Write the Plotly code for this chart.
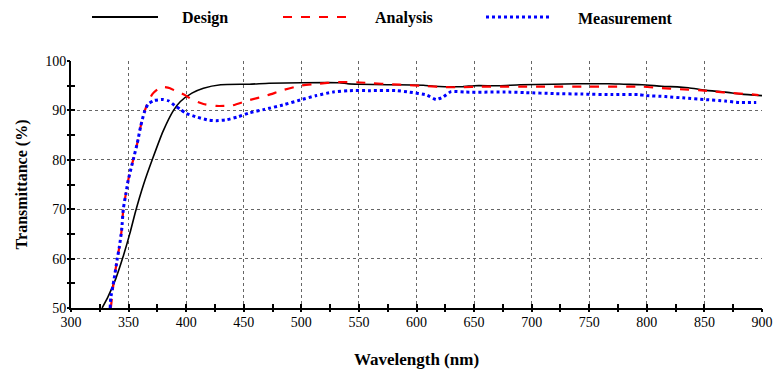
import plotly.graph_objects as go

# Design (black solid)
design_x = [327, 332, 339, 345, 351, 356, 363, 371, 380, 389, 395, 405, 415, 430,
            455, 472, 500, 533, 540, 550, 575, 606, 615, 640, 650, 672, 690, 718, 740, 767,
            780, 796, 813, 836, 850, 868, 882, 900]
design_y = [50, 52.2, 56, 60.2, 65, 69.5, 75, 80.3, 85.8, 90, 91.8, 93.5, 94.5, 95.2,
            95.3, 95.5, 95.6, 95.6, 95.4, 95.3, 95.2, 95.1, 94.9, 94.8, 95.0, 95.0, 95.2, 95.3,
            95.4, 95.4, 95.3, 95.2, 94.9, 94.6, 94.1, 93.7, 93.3, 93.0]

# Analysis (red dashed)
analysis_x = [334.6, 337.3, 340.2, 342, 344, 345.4, 347.7, 349.7, 354, 357.6, 360.5, 363.6,
              367, 371, 376, 381, 386, 390, 394.6, 399, 405, 415, 426, 440, 455, 470, 484,
              499, 515, 530, 548, 562, 577, 594, 609, 625, 640, 655, 700, 750, 796, 813, 827,
              845, 859, 874, 888, 897]
analysis_y = [50, 55.7, 60, 62.4, 65.8, 70, 73.2, 75.9, 80, 83.4, 86.8, 89.6,
              91.8, 93.4, 94.4, 94.7, 94.5, 94.0, 93.6, 93.1, 92.2, 91.3, 90.9, 91.0, 92.1, 93.0,
              94.1, 95.0, 95.4, 95.7, 95.7, 95.5, 95.3, 95.1, 94.9, 94.7, 94.7, 94.8, 94.8, 94.8,
              94.8, 94.5, 94.3, 94.1, 93.8, 93.5, 93.3, 93.1]

# Measurement (blue dotted)
measure_x = [334, 334.5, 337.3, 340.2, 342, 344, 345.4, 347.7, 349.7, 354, 357.6, 360.5, 363.6,
             367, 372, 380, 385, 390, 395, 400, 410, 420, 426, 435, 445, 455, 468, 484, 499,
             513, 527, 542, 560, 582, 594, 609, 617, 623, 630, 643, 680, 695, 720, 744, 770,
             793, 799, 816, 833, 850, 868, 880, 895]
measure_y = [50, 52, 55.7, 60, 62.4, 65.8, 70, 73.2, 75.9, 80, 83.4, 86.8, 89.6,
             91.3, 92.0, 92.2, 91.9, 91.0, 90.2, 89.4, 88.6, 88.0, 87.9, 88.1, 88.7, 89.5, 90.2,
             91.1, 92.1, 93.0, 93.7, 94.0, 94.0, 94.0, 93.7, 93.1, 92.2, 92.7, 93.8, 93.7, 93.7,
             93.6, 93.4, 93.3, 93.2, 93.2, 93.0, 92.8, 92.5, 92.2, 91.9, 91.6, 91.6]

x_ticks = list(range(300, 901, 50))
y_ticks = list(range(50, 101, 10))

series_names = ["Design", "Analysis", "Measurement"]
series_colors = ["black", "#ff0000", "#0000ff"]
series_dash = ["solid", "dash", "dot"]
series_width = [1.6, 2.2, 3]

serif = "Liberation Serif"

fig = go.Figure()
for name, xs, ys, c, d, w in zip(series_names, [design_x, analysis_x, measure_x],
                                  [design_y, analysis_y, measure_y],
                                  series_colors, series_dash, series_width):
    fig.add_trace(go.Scatter(x=xs, y=ys, mode="lines", name=name, showlegend=False,
                             line=dict(color=c, width=w, dash=d, shape="spline", smoothing=0.5)))

# invisible helper trace so the overlay axes (outer half of the crossing ticks) are drawn
fig.add_trace(go.Scatter(x=[300, 900], y=[50, 100], xaxis="x2", yaxis="y2", mode="markers",
                         marker=dict(opacity=0), hoverinfo="skip", showlegend=False))

# Manual legend across the top (pixel layout converted to paper coords)
L, R, T, B = 71, 762, 61, 308
def px(xp):
    return (xp - L) / (R - L)
def py(yp):
    return (B - yp) / (B - T)

legend_line_x = [(92, 158), (283, 347), (486, 552)]
legend_text_x = [180, 373, 576]
for (x0, x1), tx, name, c, d, w in zip(legend_line_x, legend_text_x, series_names,
                                       series_colors, series_dash, series_width):
    fig.add_shape(type="line", xref="paper", yref="paper",
                  x0=px(x0), x1=px(x1), y0=py(17), y1=py(17),
                  line=dict(color=c, width=w if d != "solid" else 2, dash=d))
    fig.add_annotation(xref="paper", yref="paper", x=px(tx), y=py(18), xanchor="left",
                       yanchor="middle", text="<b>%s</b>" % name, showarrow=False,
                       font=dict(family=serif, size=16, color="black"))

axis_common = dict(
    showline=True, linecolor="black", linewidth=2, mirror=False,
    showgrid=True, gridcolor="#666666", griddash="dot", gridwidth=1,
    ticks="inside", ticklen=4, tickwidth=1.5, tickcolor="black",
    tickfont=dict(family=serif, size=14, color="black"),
    zeroline=False, automargin=False,
)
overlay_common = dict(
    showline=False, showgrid=False, zeroline=False, showticklabels=False,
    ticks="outside", ticklen=3, tickwidth=1.5, tickcolor="black", automargin=False,
)

fig.update_layout(
    width=774, height=371,
    margin=dict(l=L, r=774 - R, t=T, b=371 - B),
    paper_bgcolor="white", plot_bgcolor="white",
    font=dict(family=serif, color="black"),
    showlegend=False,
    xaxis=dict(axis_common, range=[300, 900], tickvals=x_ticks,
               minor=dict(dtick=25, tick0=300, ticks="inside", ticklen=4, tickcolor="black", showgrid=False),
               title=dict(text="<b>Wavelength (nm)</b>", font=dict(family=serif, size=17, color="black"),
                          standoff=24)),
    yaxis=dict(axis_common, range=[50, 100], tickvals=y_ticks,
               minor=dict(dtick=5, tick0=50, ticks="inside", ticklen=4, tickcolor="black", showgrid=False),
               title=dict(text="<b>Transmittance (%)</b>", font=dict(family=serif, size=16, color="black"),
                          standoff=14)),
    xaxis2=dict(overlay_common, overlaying="x", side="bottom", anchor="y2", range=[300, 900],
                tickvals=x_ticks, minor=dict(dtick=25, tick0=300, ticks="outside", ticklen=3, tickcolor="black")),
    yaxis2=dict(overlay_common, overlaying="y", side="left", anchor="x2", range=[50, 100],
                tickvals=y_ticks, minor=dict(dtick=5, tick0=50, ticks="outside", ticklen=3, tickcolor="black")),
)

fig.write_html("out.html")
